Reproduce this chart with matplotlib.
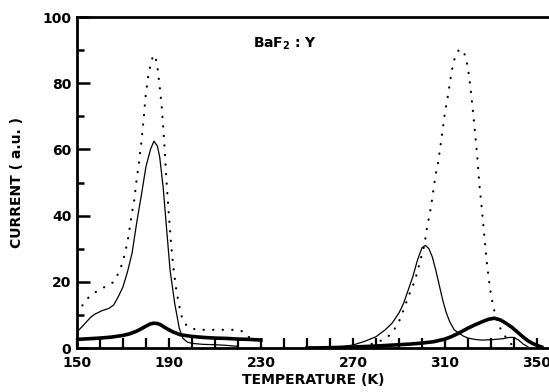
import numpy as np
import matplotlib
matplotlib.use("Agg")
import matplotlib.pyplot as plt
from matplotlib.ticker import MultipleLocator

# dotted curve, low-temperature peak
dot1_T = [150, 152, 155, 158, 160, 162, 164, 166, 168, 170, 172, 174, 175, 176, 177, 178, 179,
          180, 181, 182, 183, 184, 185, 186, 187, 188, 189, 190, 191, 192, 193, 194, 195, 196,
          198, 200, 202, 205, 210, 215, 220, 222, 224, 226, 228, 230]
dot1_I = [10.5, 12.5, 15.2, 16.8, 17.8, 18.4, 19.0, 20.0, 22.5, 26.0, 32.0, 41.0, 45.0, 51.0,
          56.0, 62.0, 69.0, 77.0, 82.0, 85.5, 88.0, 88.5, 85.0, 79.0, 72.0, 62.0, 50.0, 40.0,
          31.0, 24.0, 18.5, 14.5, 11.0, 8.5, 6.5, 6.0, 5.5, 5.5, 5.5, 5.5, 5.5, 5.0, 3.5, 3.0,
          2.6, 2.5]

# dotted curve, high-temperature peak
dot2_T = [270, 276, 280, 284, 287, 290, 292, 294, 297, 299, 301, 302, 304, 305, 306, 307, 308,
          309, 310, 311, 312, 313, 314, 315, 316, 317, 318, 319, 320, 321, 322, 323, 324, 325,
          326, 327, 328, 329, 330, 331, 332, 333, 334, 335, 337, 339, 341, 342]
dot2_I = [0.0, 0.8, 1.6, 2.8, 4.5, 8.0, 11.5, 15.4, 20.5, 25.7, 31.0, 35.6, 43.0, 48.0, 52.6,
          56.0, 61.0, 66.0, 71.3, 75.0, 79.5, 84.0, 87.0, 89.0, 90.0, 90.3, 89.5, 88.0, 84.3,
          79.2, 72.5, 65.5, 58.0, 49.0, 42.0, 34.5, 27.0, 21.0, 16.0, 12.5, 9.8, 7.8, 6.0, 4.8,
          2.6, 1.0, 0.3, 0.0]

# thin solid curve, low-temperature peak
thin1_T = [150, 153, 156, 158, 161, 164, 166, 168, 170, 172, 174, 176, 177, 178, 180, 182, 183.5,
           185, 186, 187.5, 189, 190.5, 192.5, 194.5, 196, 198, 200, 205, 210, 215, 220]
thin1_I = [4.8, 7.0, 9.3, 10.3, 11.3, 12.0, 13.0, 15.5, 18.4, 23.0, 28.7, 37.8, 42.0, 46.0,
           54.7, 60.0, 62.5, 61.0, 57.7, 48.6, 36.0, 23.6, 13.6, 6.0, 3.0, 1.8, 1.4, 1.1, 1.0,
           0.8, 0.5]

# thin solid curve, high-temperature peak
thin2_T = [262, 266, 270, 275, 280, 284, 287, 290, 292, 294, 296, 298, 300, 301.5, 303, 304.5,
           306, 307.5, 309, 310.5, 312, 314, 316, 318, 320, 323, 326, 330, 335, 338, 340, 342,
           344, 346]
thin2_I = [0.2, 0.5, 0.9, 2.0, 3.4, 5.5, 7.5, 10.6, 13.5, 17.5, 21.5, 26.5, 30.3, 31.0, 30.0,
           27.5, 23.5, 19.0, 14.5, 10.8, 8.0, 5.5, 4.5, 3.6, 3.0, 2.6, 2.4, 2.5, 2.8, 3.2, 3.2,
           2.4, 1.2, 0.4]

# thick solid curve, low-temperature peak
thick1_T = [150, 155, 160, 165, 170, 173, 176, 178, 180, 182, 183.5, 185, 186.5, 188, 190, 192,
            195, 200, 205, 210, 215, 220, 225, 230]
thick1_I = [2.6, 2.8, 3.0, 3.3, 3.8, 4.3, 5.1, 5.8, 6.6, 7.3, 7.5, 7.4, 7.0, 6.3, 5.5, 4.8, 4.0,
            3.5, 3.2, 3.0, 2.9, 2.7, 2.6, 2.4]

# thick solid curve, high-temperature peak
thick2_T = [250, 260, 270, 280, 290, 295, 300, 305, 310, 313, 316, 320, 323, 326, 329, 331.5,
            334, 336, 339, 342, 344, 346, 348, 350, 352]
thick2_I = [0.0, 0.1, 0.3, 0.6, 1.0, 1.2, 1.5, 1.9, 2.7, 3.5, 4.5, 6.0, 7.0, 7.9, 8.7, 9.0,
            8.5, 7.7, 6.3, 4.5, 3.3, 2.2, 1.4, 0.8, 0.3]

x_ticks = [150, 190, 230, 270, 310, 350]
y_ticks = [0, 20, 40, 60, 80, 100]

plt.rcParams['font.family'] = 'DejaVu Sans'
plt.rcParams['font.weight'] = 'bold'

fig = plt.figure(figsize=(5.49, 3.92), dpi=100)
ax = fig.add_axes([0.140, 0.1122, 0.860, 0.8444])

dotted = (0, (0.1, 4.2))
ax.plot(dot1_T, dot1_I, color='black', lw=1.6, ls=dotted, dash_capstyle='round')
ax.plot(dot2_T, dot2_I, color='black', lw=1.6, ls=dotted, dash_capstyle='round')
ax.plot(thin1_T, thin1_I, color='black', lw=0.9)
ax.plot(thin2_T, thin2_I, color='black', lw=0.9)
ax.plot(thick1_T, thick1_I, color='black', lw=2.6)
ax.plot(thick2_T, thick2_I, color='black', lw=2.6)

ax.set_xlim(150, 355.2)
ax.set_ylim(0, 100)

ax.spines['right'].set_visible(False)
for side in ['top', 'left', 'bottom']:
    ax.spines[side].set_linewidth(2.0)

ax.set_xticks(x_ticks)
ax.xaxis.set_minor_locator(MultipleLocator(10))
ax.set_yticks(y_ticks)
ax.yaxis.set_minor_locator(MultipleLocator(10))
ax.tick_params(axis='x', which='both', direction='in', length=7, width=1.6, pad=6,
               labelsize=10)
ax.tick_params(axis='y', which='major', direction='in', length=9.5, width=1.8, pad=4,
               labelsize=10)
ax.tick_params(axis='y', which='minor', direction='in', length=5, width=1.8)

ax.set_xlabel('TEMPERATURE (K)', fontsize=10, fontweight='bold', labelpad=2)
ax.set_ylabel('CURRENT ( a.u. )', fontsize=10, fontweight='bold', labelpad=13)
ax.text(226.5, 92, 'BaF$_\\mathbf{2}$ : Y', fontsize=10, fontweight='bold',
        ha='left', va='center')

fig.savefig('out.png', dpi=100)
